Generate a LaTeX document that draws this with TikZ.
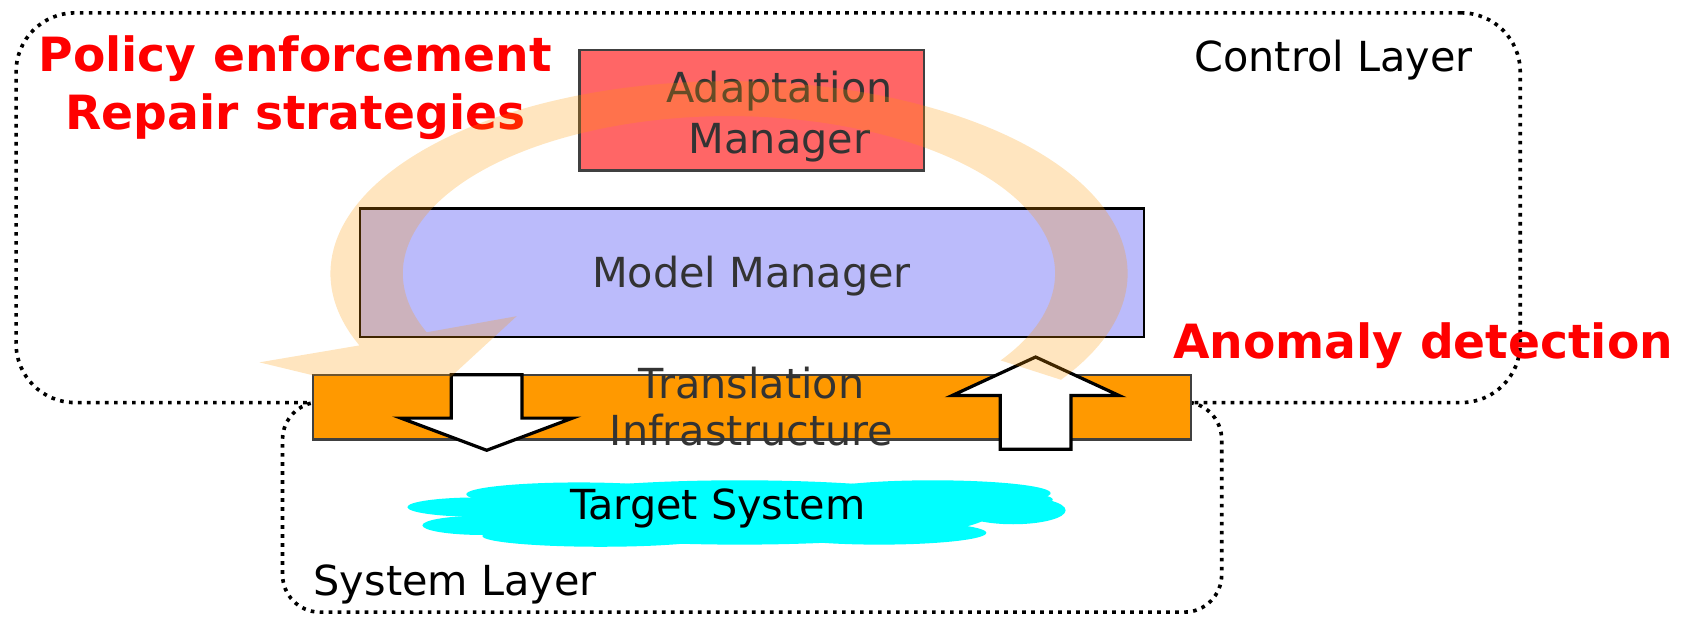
\documentclass[tikz,border=0pt]{standalone}
\usepackage{fontspec}
\setmainfont{DejaVu Sans}
\definecolor{redbox}{RGB}{255,102,102}
\definecolor{bluebox}{RGB}{187,187,251}
\definecolor{orangebox}{RGB}{255,153,0}
\definecolor{darktext}{RGB}{51,51,51}
\definecolor{borderg}{RGB}{64,64,64}
\definecolor{cloudc}{RGB}{0,255,255}
\definecolor{redtext}{RGB}{255,0,0}
\begin{document}
\begin{tikzpicture}[x=0.5pt,y=-0.5pt,
  dotbox/.style={draw=black, line width=1.7pt, dash pattern=on 1.7pt off 2.5pt, rounded corners=#1, inner sep=0pt},
  boxnode/.style={inner sep=0pt, line width=1.1pt},
  blockarrow/.style={draw=black, fill=white, line width=1.5pt, line join=miter},
  lbl/.style={inner sep=0pt, font=\fontsize{19.3}{23}\selectfont},
  redlbl/.style={inner sep=0pt, text=redtext, font=\fontsize{22}{27.2}\selectfont\bfseries},
  band/.style={fill=orangebox, fill opacity=0.25}
]
\useasboundingbox (0,0) rectangle (1568,574.6);
% layers
\node[dotbox=27.5pt, minimum width=701.5pt, minimum height=181.75pt] (ctrl) at (716.5,193.75) {};
\node[dotbox=17.5pt, minimum width=438pt, minimum height=98pt] (sys) at (701.55,473) {};
% boxes
\node[boxnode, draw=borderg, fill=redbox, minimum width=160.7pt, minimum height=56.2pt] (am) at (701.3,102.8) {};
\node[boxnode, draw=black, fill=bluebox, minimum width=365.6pt, minimum height=60.1pt] (mm) at (701.6,254.5) {};
% cloud
\begin{scope}
\fill[cloudc] (690,478) ellipse [x radius=235, y radius=30];
\fill[cloudc] (540,461) ellipse [x radius=105, y radius=11];
\fill[cloudc] (870,460) ellipse [x radius=110, y radius=12];
\fill[cloudc] (945,476) ellipse [x radius=49, y radius=13];
\fill[cloudc] (950,466) ellipse [x radius=32, y radius=6];
\fill[cloudc] (820,497) ellipse [x radius=100, y radius=11];
\fill[cloudc] (560,500) ellipse [x radius=110, y radius=10];
\fill[cloudc] (445,473) ellipse [x radius=65, y radius=9];
\fill[cloudc] (450,490) ellipse [x radius=56, y radius=9];
\end{scope}
% translation infrastructure
\node[boxnode, draw=borderg, fill=orangebox, minimum width=409.35pt, minimum height=30.15pt] (ti) at (701.35,379.65) {};
% block arrows
\draw[blockarrow] (421,349.5) -- (421,390) -- (374,390) -- (454,420) -- (534,390) -- (487,390) -- (487,349.5) -- cycle;
\draw[blockarrow] (933,419) -- (933,369) -- (888,369) -- (966,333) -- (1044,369) -- (999,369) -- (999,419) -- cycle;
% texts
\node[lbl, anchor=base] (ctrltxt) at (1243.8,66.9) {Control Layer};
\node[lbl, anchor=base] (systxt) at (424.5,555) {System Layer};
\node[lbl, anchor=base, text=darktext] (mmtxt) at (701,268) {Model Manager};
\node[lbl, align=center, text=darktext, font=\fontsize{19.3}{23.8}\selectfont] (amtxt) at (727,109) {Adaptation\\Manager};
\node[lbl, align=center, text=darktext, font=\fontsize{19.3}{22}\selectfont] (titxt) at (701,379) {Translation\\Infrastructure};
\node[lbl, anchor=base] (tstxt) at (669.5,485) {Target System};
\node[redlbl, align=center] (poltxt) at (275.5,82) {Policy enforcement\\Repair strategies};
\node[redlbl, anchor=base] (anotxt) at (1327.4,334.2) {Anomaly detection};
% circular band arrow
\begin{scope}[shift={(680,255)}, x=169pt, y=81.5pt]
\fill[band] (-33.6:1.1) arc[start angle=-33.6, end angle=202, radius=1.1]
  -- (-1.296,-0.509) -- (-0.843,-0.736) -- (-0.586,-0.245)
  -- (202:0.9) arc[start angle=202, end angle=-33.6, radius=0.9] -- cycle;
\end{scope}
\end{tikzpicture}
\end{document}
